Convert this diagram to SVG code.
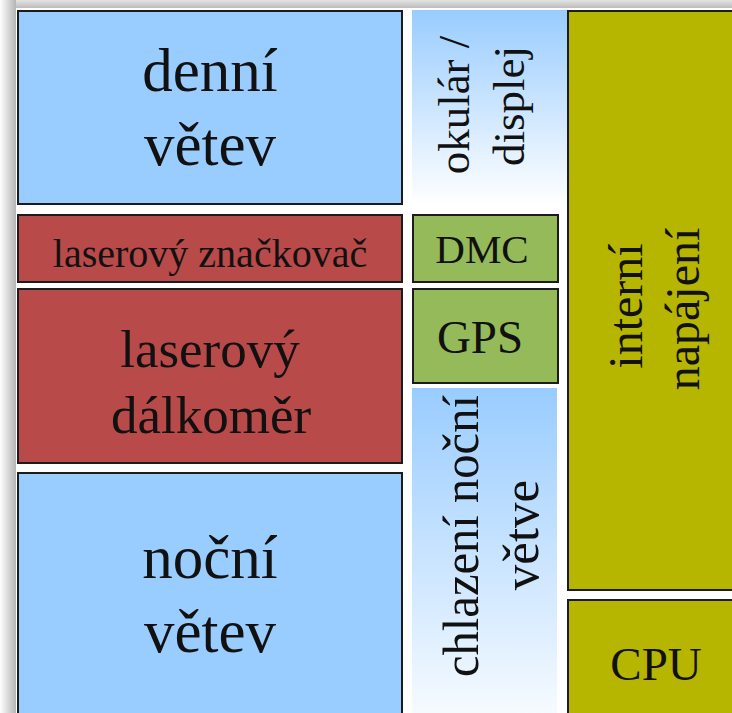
<svg xmlns="http://www.w3.org/2000/svg" width="732" height="713" viewBox="0 0 732 713">
<style>
.box{stroke:#1c1c1c;stroke-width:2}
.blue{fill:#99CCFF}
.red{fill:#B84A49}
.green{fill:#95BA5A}
.olive{fill:#B6B500}
text{fill:#111;text-anchor:middle}
</style>
<defs>
<linearGradient id="shTop" x1="0" y1="0" x2="0" y2="1">
<stop offset="0" stop-color="#e4e4e4"/>
<stop offset="1" stop-color="#bcbcbc"/>
</linearGradient>
<linearGradient id="shLeft" x1="0" y1="0" x2="1" y2="0">
<stop offset="0" stop-color="#ffffff"/>
<stop offset="1" stop-color="#b4b4b4"/>
</linearGradient>
<linearGradient id="gOk" x1="0" y1="0" x2="0" y2="1">
<stop offset="0" stop-color="#99CCFF"/>
<stop offset="1" stop-color="#FFFFFF"/>
</linearGradient>
<linearGradient id="gCh" x1="0" y1="0" x2="0" y2="1">
<stop offset="0" stop-color="#99CCFF"/>
<stop offset="1" stop-color="#F7FBFF"/>
</linearGradient>
</defs>
<rect x="0" y="0" width="732" height="713" fill="#ffffff"/>
<rect x="0" y="0" width="732" height="8" fill="url(#shTop)"/>
<rect x="0" y="0" width="16" height="713" fill="url(#shLeft)"/>

<g font-family="Liberation Serif, DejaVu Serif, serif">
<g id="denni-vetev">
<rect class="box blue" x="18" y="11" width="384" height="193"/>
<text font-size="61" x="210" y="91">denní</text>
<text font-size="61" x="210" y="165">větev</text>
</g>

<g id="okular-displej">
<rect x="412" y="10" width="155" height="195" fill="url(#gOk)"/>
<g transform="rotate(-90)">
<text font-size="45" x="-105" y="469">okulár /</text>
<text font-size="45" x="-106" y="524">displej</text>
</g>
</g>

<g id="interni-napajeni">
<rect class="box olive" x="568" y="11" width="200" height="579"/>
<g transform="rotate(-90)">
<text font-size="48" x="-306" y="642">interní</text>
<text font-size="48" x="-309" y="699">napájení</text>
</g>
</g>

<g id="cpu">
<rect class="box olive" x="568" y="600" width="200" height="130"/>
<text font-size="47" x="656" y="680">CPU</text>
</g>

<g id="laserovy-znackovac">
<rect class="box red" x="18" y="215" width="384" height="67"/>
<text font-size="40" x="210" y="267">laserový značkovač</text>
</g>

<g id="dmc">
<rect class="box green" x="413" y="215" width="145" height="67"/>
<text font-size="41" x="482" y="263">DMC</text>
</g>

<g id="laserovy-dalkomer">
<rect class="box red" x="18" y="289" width="384" height="174"/>
<text font-size="53" x="210" y="367">laserový</text>
<text font-size="53" x="211" y="433">dálkoměr</text>
</g>

<g id="gps">
<rect class="box green" x="413" y="289" width="145" height="94"/>
<text font-size="47" x="480" y="353">GPS</text>
</g>

<g id="chlazeni">
<rect x="412" y="388" width="145" height="330" fill="url(#gCh)"/>
<g transform="rotate(-90)">
<text font-size="51" x="-536" y="478" textLength="282" lengthAdjust="spacingAndGlyphs">chlazení noční</text>
<text font-size="51" x="-535" y="538">větve</text>
</g>
</g>

<g id="nocni-vetev">
<rect class="box blue" x="18" y="473" width="384" height="260"/>
<text font-size="61" x="210" y="578">noční</text>
<text font-size="61" x="210" y="652">větev</text>
</g>
</g>

<g id="connectors"></g>
</svg>
